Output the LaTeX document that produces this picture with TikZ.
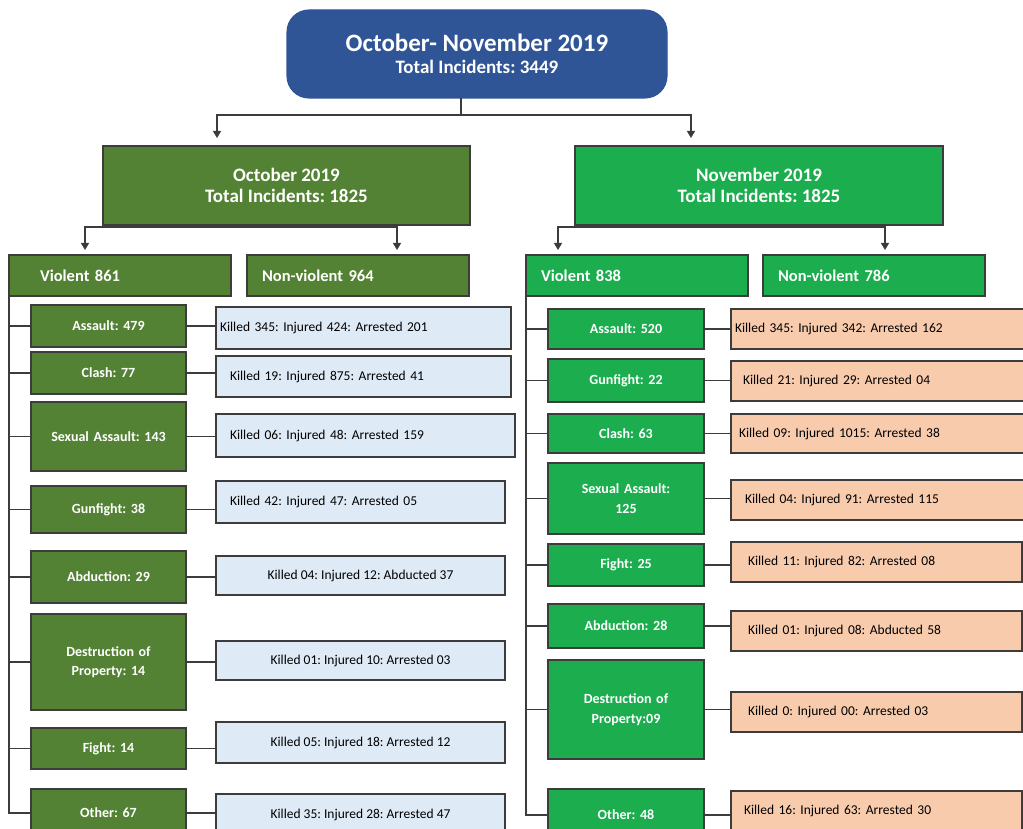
\documentclass[tikz,border=0pt]{standalone}
\usepackage{fontspec}
\setmainfont{Carlito}
\frenchspacing
\usetikzlibrary{positioning,arrows.meta}
\definecolor{topblue}{HTML}{2F5597}
\definecolor{octgreen}{HTML}{548235}
\definecolor{novgreen}{HTML}{1CAD4F}
\definecolor{octinfo}{HTML}{DEEAF6}
\definecolor{novinfo}{HTML}{F7CBAC}
\definecolor{edge}{HTML}{3C3C3C}

\begin{document}
\begin{tikzpicture}[x=1pt,y=-1pt,>={Triangle[width=8pt,length=7pt]}]
\tikzstyle{box}=[draw=edge,line width=1.1pt,inner sep=0pt,outer sep=0pt]
\tikzstyle{top}=[box,fill=topblue,draw=topblue,rounded corners=22pt,minimum width=380,minimum height=88,text=white,align=center,font=\bfseries\fontsize{25}{22}\selectfont]
\tikzstyle{mon}=[box,minimum width=367,minimum height=79,text=white,align=center,font=\bfseries\fontsize{19}{21}\selectfont]
\tikzstyle{kind}=[box,minimum height=41,align=left,text=white,font=\bfseries\fontsize{16.5}{18}\selectfont]
\tikzstyle{cat}=[box,minimum width=155,text width=150,align=center,text=white,font=\bfseries\fontsize{14}{19.5}\selectfont]
\tikzstyle{inf}=[box,font=\fontsize{13.5}{16}\selectfont]
\tikzstyle{wire}=[draw=edge,line width=1.2pt]
\useasboundingbox (0,0) rectangle (1023,829);
\clip (0,0) rectangle (1023,829);

   % top level
   \draw (477,54) node (all) [top] {October- November 2019\\{\fontsize{19}{22}\selectfont Total Incidents: 3449}};
   \draw (286.5,185.5) node (oct) [mon,fill=octgreen] {October 2019\\Total Incidents: 1825};
   \draw (759,185.5) node (nov) [mon,fill=novgreen,minimum width=368] {November 2019\\Total Incidents: 1825};

   \draw (120,275.5) node (vo) [kind,fill=octgreen,inner xsep=31,text width=160] {Violent 861};
   \draw (358,275.5) node (no) [kind,fill=octgreen,inner xsep=15,text width=192] {Non-violent 964};
   \draw (637,275.5) node (vn) [kind,fill=novgreen,inner xsep=15,text width=192] {Violent 838};
   \draw (874,275.5) node (nn) [kind,fill=novgreen,inner xsep=15,text width=192] {Non-violent 786};

   \coordinate (split) at (461,115);
   \coordinate (octtip) at (217,138);
   \coordinate (novtip) at (691,138);
   \coordinate (votip) at (85,250);
   \coordinate (notip) at (397,250);
   \coordinate (vntip) at (558,250);
   \coordinate (nntip) at (885,250);

   % October, violent
   \draw (108.5,326) node (o1) [cat,fill=octgreen,minimum height=42] {Assault: 479};
   \draw (108.5,373) node (o2) [cat,fill=octgreen,minimum height=42] {Clash: 77};
   \draw (108.5,436.5) node (o3) [cat,fill=octgreen,minimum height=69] {Sexual Assault: 143};
   \draw (108.5,509.5) node (o4) [cat,fill=octgreen,minimum height=47] {Gunfight: 38};
   \draw (108.5,577) node (o5) [cat,fill=octgreen,minimum height=52] {Abduction: 29};
   \draw (108.5,662) node (o6) [cat,fill=octgreen,minimum height=96] {Destruction of\\Property: 14};
   \draw (108.5,748.5) node (o7) [cat,fill=octgreen,minimum height=41] {Fight: 14};
   \draw (108.5,813) node (o8) [cat,fill=octgreen,minimum height=48] {Other: 67};

   \draw (363.5,328) node (io1) [inf,fill=octinfo,minimum height=42,inner xsep=4,text width=287,align=left] {Killed 345: Injured 424: Arrested 201};
   \draw (363.5,376.5) node (io2) [inf,fill=octinfo,minimum height=41,inner xsep=14,text width=267,align=left] {Killed 19: Injured 875: Arrested 41};
   \draw (365.5,435.5) node (io3) [inf,fill=octinfo,minimum height=43,inner xsep=14,text width=271,align=left] {Killed 06: Injured 48: Arrested 159};
   \draw (360.5,502) node (io4) [inf,fill=octinfo,minimum height=42,inner xsep=14,text width=261,align=left] {Killed 42: Injured 47: Arrested 05\\[12pt]};
   \draw (360.5,575.5) node (io5) [inf,fill=octinfo,minimum height=39,minimum width=289] {Killed 04: Injured 12: Abducted 37};
   \draw (360.5,660.5) node (io6) [inf,fill=octinfo,minimum height=39,minimum width=289] {Killed 01: Injured 10: Arrested 03};
   \draw (360.5,742.5) node (io7) [inf,fill=octinfo,minimum height=41,minimum width=289] {Killed 05: Injured 18: Arrested 12};
   \draw (360.5,815) node (io8) [inf,fill=octinfo,minimum height=42,minimum width=289] {Killed 35: Injured 28: Arrested 47};

   % November, violent
   \draw (626,329) node (n1) [cat,fill=novgreen,minimum width=156,minimum height=40] {Assault: 520};
   \draw (626,380.5) node (n2) [cat,fill=novgreen,minimum width=156,minimum height=43] {Gunfight: 22};
   \draw (626,433.5) node (n3) [cat,fill=novgreen,minimum width=156,minimum height=39] {Clash: 63};
   \draw (626,498.5) node (n4) [cat,fill=novgreen,minimum width=156,minimum height=71] {Sexual Assault:\\125};
   \draw (626,565) node (n5) [cat,fill=novgreen,minimum width=156,minimum height=42] {Fight: 25};
   \draw (626,626) node (n6) [cat,fill=novgreen,minimum width=156,minimum height=44] {Abduction: 28};
   \draw (626,709.5) node (n7) [cat,fill=novgreen,minimum width=156,minimum height=99] {Destruction of\\Property:09};
   \draw (626,815) node (n8) [cat,fill=novgreen,minimum width=156,minimum height=52] {Other: 48};

   \draw (885.5,329) node (in1) [inf,fill=novinfo,minimum height=40,inner xsep=4,text width=301,align=left] {Killed 345: Injured 342: Arrested 162};
   \draw (885.5,381) node (in2) [inf,fill=novinfo,minimum height=40,inner xsep=12,text width=285,align=left] {Killed 21: Injured 29: Arrested 04};
   \draw (885.5,433.5) node (in3) [inf,fill=novinfo,minimum height=39,inner xsep=8,text width=293,align=left] {Killed 09: Injured 1015: Arrested 38};
   \draw (885.5,500) node (in4) [inf,fill=novinfo,minimum height=40,inner xsep=14,text width=281,align=left] {Killed 04: Injured 91: Arrested 115};
   \draw (876.5,562) node (in5) [inf,fill=novinfo,minimum height=40,inner xsep=17,text width=257,align=left] {Killed 11: Injured 82: Arrested 08};
   \draw (876.5,631) node (in6) [inf,fill=novinfo,minimum height=40,inner xsep=17,text width=257,align=left] {Killed 01: Injured 08: Abducted 58};
   \draw (876.5,712) node (in7) [inf,fill=novinfo,minimum height=40,inner xsep=17,text width=257,align=left] {Killed 0: Injured 00: Arrested 03};
   \draw (876.5,811) node (in8) [inf,fill=novinfo,minimum height=40,inner xsep=13,text width=265,align=left] {Killed 16: Injured 63: Arrested 30};

   % arrows
   \path [wire] (all.south -| split) -- (split);
   \path [wire,->] (split) -| (octtip);
   \path [wire,->] (split) -| (novtip);
   \path [wire,->] ([yshift=-2pt]oct.south) -| (votip);
   \path [wire,->] ([yshift=-2pt]oct.south) -| (notip);
   \path [wire,->] ([yshift=-2pt]nov.south) -| (vntip);
   \path [wire,->] ([yshift=-2pt]nov.south) -| (nntip);

   % trunks
   \path [wire] (vo.south west) |- (o8.west);
   \path [wire] (o1.west) -- (o1.west -| vo.south west);
   \path [wire] (o2.west) -- (o2.west -| vo.south west);
   \path [wire] (o3.west) -- (o3.west -| vo.south west);
   \path [wire] (o4.west) -- (o4.west -| vo.south west);
   \path [wire] (o5.west) -- (o5.west -| vo.south west);
   \path [wire] (o6.west) -- (o6.west -| vo.south west);
   \path [wire] (o7.west) -- (o7.west -| vo.south west);
   \path [wire] (vn.south west) |- (n8.west);
   \path [wire] (n1.west) -- (n1.west -| vn.south west);
   \path [wire] (n2.west) -- (n2.west -| vn.south west);
   \path [wire] (n3.west) -- (n3.west -| vn.south west);
   \path [wire] (n4.west) -- (n4.west -| vn.south west);
   \path [wire] (n5.west) -- (n5.west -| vn.south west);
   \path [wire] (n6.west) -- (n6.west -| vn.south west);
   \path [wire] (n7.west) -- (n7.west -| vn.south west);

   % to details
   \path [wire] (o1.east) -- (o1.east -| io1.west);
   \path [wire] (o2.east) -- (o2.east -| io2.west);
   \path [wire] (o3.east) -- (o3.east -| io3.west);
   \path [wire] (o4.east) -- (o4.east -| io4.west);
   \path [wire] (o5.east) -- (o5.east -| io5.west);
   \path [wire] (o6.east) -- (o6.east -| io6.west);
   \path [wire] (o7.east) -- (o7.east -| io7.west);
   \path [wire] (o8.east) -- (o8.east -| io8.west);
   \path [wire] (n1.east) -- (n1.east -| in1.west);
   \path [wire] (n2.east) -- (n2.east -| in2.west);
   \path [wire] (n3.east) -- (n3.east -| in3.west);
   \path [wire] (n4.east) -- (n4.east -| in4.west);
   \path [wire] (n5.east) -- (n5.east -| in5.west);
   \path [wire] (n6.east) -- (n6.east -| in6.west);
   \path [wire] (n7.east) -- (n7.east -| in7.west);
   \path [wire] (n8.east) -- (n8.east -| in8.west);
\end{tikzpicture}
\end{document}
